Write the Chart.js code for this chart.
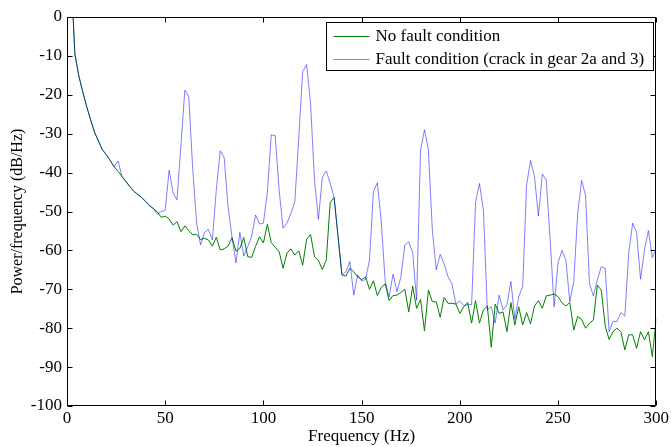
<!DOCTYPE html>
<html><head><meta charset="utf-8">
<script src="https://cdn.jsdelivr.net/npm/chart.js@4/dist/chart.umd.min.js"></script>
<style>html,body{margin:0;padding:0;background:#fff;}canvas{display:block;}</style>
</head><body>
<canvas id="c" width="671" height="447"></canvas>
<script>
// Frequency bins (Hz)
const freq = [
  0,2,4,6,8,10,12,14,16,18,
  20,22,24,26,28,30,32,34,36,38,
  40,42,44,46,48,50,52,54,56,58,
  60,62,64,66,68,70,72,74,76,78,
  80,82,84,86,88,90,92,94,96,98,
  100,102,104,106,108,110,112,114,116,118,
  120,122,124,126,128,130,132,134,136,138,
  140,142,144,146,148,150,152,154,156,158,
  160,162,164,166,168,170,172,174,176,178,
  180,182,184,186,188,190,192,194,196,198,
  200,202,204,206,208,210,212,214,216,218,
  220,222,224,226,228,230,232,234,236,238,
  240,242,244,246,248,250,252,254,256,258,
  260,262,264,266,268,270,272,274,276,278,
  280,282,284,286,288,290,292,294,296,298,
  300
];
// No fault condition (dB/Hz)
const noFault = [
  25,12,-9.5,-15.1,-19.2,-23,-26.4,-29.6,-31.9,-34.1,
  -35.4,-36.9,-38.5,-39.7,-41,-42.3,-43.6,-44.8,-45.6,-46.4,
  -47.4,-48.4,-49.3,-50.1,-51.5,-51.2,-51.9,-53.5,-52.6,-55.2,
  -53.7,-54.9,-56,-55.9,-57.2,-56.9,-57.3,-58.9,-56.6,-59.9,
  -59.6,-58.9,-56.7,-60.2,-59.5,-56.7,-61.6,-61.8,-59,-56.5,
  -58.1,-53.3,-58,-59.2,-60.3,-64.6,-60.7,-59.6,-61.2,-60.1,
  -63.8,-57.1,-55.9,-61.6,-62.6,-64.9,-62.5,-47.7,-46.4,-56.5,
  -66.3,-66.6,-64.6,-65.5,-66.8,-67.5,-66.8,-70,-67.8,-71.6,
  -69.5,-68.6,-72.9,-71.6,-71.5,-70.8,-70,-75.8,-69.2,-74.9,
  -72.6,-80.7,-70.2,-73.2,-73.2,-77.2,-72.1,-73.6,-73.6,-73.8,
  -76.2,-74.5,-73.4,-78.7,-72.9,-78.7,-75.3,-74.3,-84.9,-73.8,
  -76.2,-75.8,-80.9,-73.4,-79.2,-74.5,-79.2,-76,-78.9,-74.3,
  -72.9,-74.9,-71.7,-71.5,-71.2,-71.9,-73.5,-74.3,-73.4,-80.5,
  -77,-77.7,-80,-78.7,-77.9,-68.9,-70.2,-79.4,-82.9,-80.9,
  -80,-80.9,-85.6,-81.7,-81.7,-85.2,-80.9,-83,-80.9,-87.3,
  -77.5
];
// Fault condition (dB/Hz)
const fault = [
  25,12,-9.5,-15.1,-19.2,-23,-26.4,-29.6,-31.9,-34.1,
  -35.4,-36.9,-38.5,-37,-41,-42.3,-43.6,-44.8,-45.6,-46.4,
  -47.4,-48.6,-49.2,-50.7,-50,-49.7,-39.4,-45.2,-47,-33,
  -18.8,-20.5,-39,-53,-58.6,-55.4,-54.6,-57.3,-44.5,-34.4,
  -36.1,-48.8,-56.5,-63.2,-55.4,-61.4,-59,-56.5,-50.9,-53.2,
  -53,-45,-30.3,-30.5,-44.5,-54.3,-53,-50.5,-47.5,-31,
  -14,-12.2,-22.2,-41.9,-52,-41.2,-39.6,-42.8,-46.4,-56.5,
  -66.3,-65.5,-62.9,-71.5,-66.3,-67.8,-67.5,-62.5,-44.9,-42.6,
  -52.6,-68,-71.9,-66.1,-70.6,-66.8,-58.6,-57.8,-60.6,-72.8,
  -34.2,-29,-34.2,-54.8,-65,-61,-63.5,-66.8,-68.6,-73.8,
  -73,-74.2,-73.9,-74,-47.7,-42.8,-49.6,-75.3,-74.5,-78.7,
  -71.5,-75.3,-74,-68,-77.7,-71.9,-69.3,-43.2,-36.9,-41,
  -51.2,-40.4,-41.9,-57.3,-74.5,-63.2,-60,-62.5,-73.2,-68,
  -50.5,-42,-45.8,-68.5,-71.7,-67.6,-64.2,-64.6,-80.9,-78.3,
  -78.3,-76,-76.9,-60.6,-53,-55.4,-67.4,-59.9,-54.9,-61.8,
  -59.7
];
const seriesNames = ['No fault condition', 'Fault condition (crack in gear 2a and 3)'];
const seriesColors = ['#008000', 'rgba(0,0,255,0.5)'];
const xTicks = [0, 50, 100, 150, 200, 250, 300];
const yTicks = [0, -10, -20, -30, -40, -50, -60, -70, -80, -90, -100];
const xTitle = 'Frequency (Hz)';
const yTitle = 'Power/frequency (dB/Hz)';

const FONT = "'Liberation Serif', 'Times New Roman', serif";
const FS = 17;

const toPts = (vals) => freq.map((f, i) => ({x: f, y: vals[i]}));

const framePlugin = {
  id: 'frame',
  afterDatasetsDraw(chart) {
    const {ctx, chartArea: a, scales} = chart;
    const x = scales.x, y = scales.y;
    const L = Math.round(a.left) + 0.5, R = Math.round(a.right) - 0.5;
    const T = Math.round(a.top) + 0.5, B = Math.round(a.bottom) - 0.5;
    const tl = 5;
    ctx.save();
    ctx.strokeStyle = '#000';
    ctx.lineWidth = 1;
    ctx.beginPath();
    ctx.rect(L, T, R - L, B - T);
    x.ticks.forEach(t => {
      const px = Math.round(x.getPixelForValue(t.value)) + 0.5;
      ctx.moveTo(px, B); ctx.lineTo(px, B - tl);
      ctx.moveTo(px, T); ctx.lineTo(px, T + tl);
    });
    y.ticks.forEach(t => {
      const py = Math.round(y.getPixelForValue(t.value)) + 0.5;
      ctx.moveTo(L, py); ctx.lineTo(L + tl, py);
      ctx.moveTo(R, py); ctx.lineTo(R - tl, py);
    });
    ctx.stroke();

    // legend
    ctx.font = FS + 'px ' + FONT;
    const widths = seriesNames.map(s => ctx.measureText(s).width);
    const tw = Math.max(...widths);
    const boxR = Math.round(a.right) - 2.5;
    const boxW = Math.round(49 + tw + 9);
    const boxL = boxR - boxW;
    const boxT = Math.round(a.top) + 5.5;
    const boxH = 48;
    ctx.fillStyle = '#fff';
    ctx.fillRect(boxL, boxT, boxW, boxH);
    ctx.strokeStyle = '#000';
    ctx.strokeRect(boxL, boxT, boxW, boxH);
    seriesNames.forEach((s, i) => {
      const cy = boxT + 13.5 + i * 23;
      ctx.strokeStyle = seriesColors[i];
      ctx.beginPath();
      ctx.moveTo(boxL + 7, Math.round(cy) + 0.5);
      ctx.lineTo(boxL + 43, Math.round(cy) + 0.5);
      ctx.stroke();
      ctx.fillStyle = '#000';
      ctx.textBaseline = 'middle';
      ctx.textAlign = 'left';
      ctx.fillText(s, boxL + 49, cy + 1);
    });
    ctx.restore();
  }
};

new Chart(document.getElementById('c'), {
  type: 'line',
  data: {
    datasets: [
      {label: seriesNames[0], data: toPts(noFault), borderColor: seriesColors[0], borderWidth: 1, pointRadius: 0, tension: 0, fill: false, order: 2},
      {label: seriesNames[1], data: toPts(fault), borderColor: seriesColors[1], borderWidth: 1, pointRadius: 0, tension: 0, fill: false, order: 1}
    ]
  },
  options: {
    responsive: false,
    animation: false,
    devicePixelRatio: 1,
    layout: {padding: {top: 17, right: 14, left: 0, bottom: 0}},
    plugins: {legend: {display: false}, tooltip: {enabled: false}},
    scales: {
      x: {
        type: 'linear', min: 0, max: 300,
        afterBuildTicks: s => { s.ticks = xTicks.map(v => ({value: v})); },
        afterFit: s => { s.height = 41; },
        grid: {display: false, drawTicks: false},
        border: {display: false},
        ticks: {padding: 2, color: '#000', font: {family: FONT, size: FS}, maxRotation: 0, autoSkip: false},
        title: {display: true, text: xTitle, color: '#000', font: {family: FONT, size: FS}, padding: {top: 0, bottom: 0}}
      },
      y: {
        type: 'linear', min: -100, max: 0,
        afterBuildTicks: s => { s.ticks = yTicks.map(v => ({value: v})); },
        afterFit: s => { s.width = 67; },
        grid: {display: false, drawTicks: false},
        border: {display: false},
        ticks: {padding: 5, color: '#000', font: {family: FONT, size: FS}, autoSkip: false},
        title: {display: true, text: yTitle, color: '#000', font: {family: FONT, size: 16}, padding: {top: 8, bottom: 0}}
      }
    }
  },
  plugins: [framePlugin]
});
</script>
</body></html>
